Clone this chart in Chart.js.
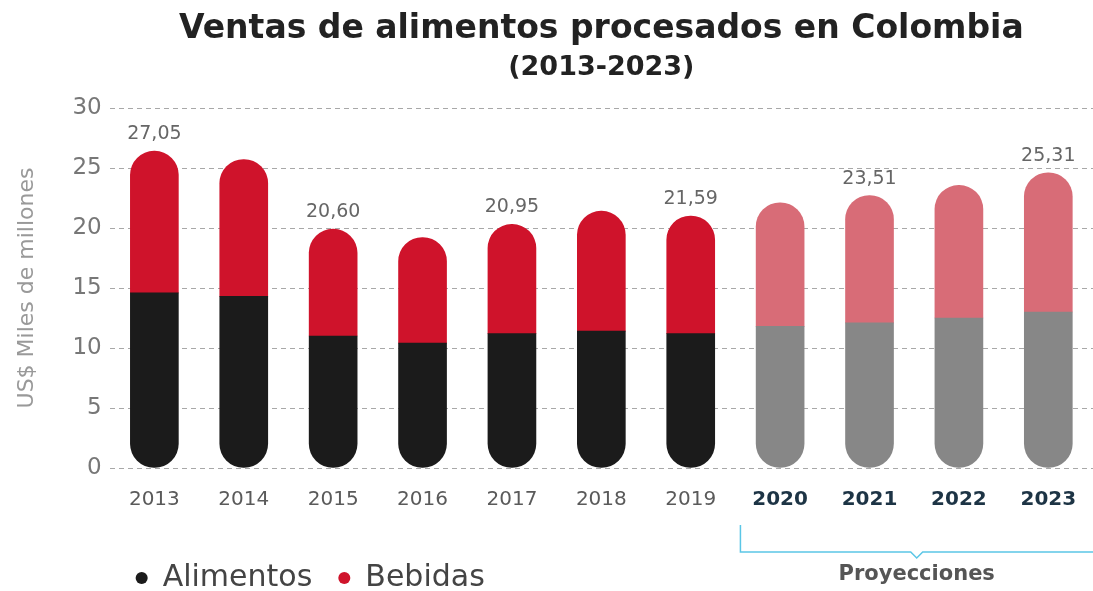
<!DOCTYPE html>
<html>
<head>
<meta charset="utf-8">
<script src="https://cdn.jsdelivr.net/npm/chart.js@4.4.1/dist/chart.umd.min.js"></script>
<style>
  html, body { margin: 0; padding: 0; background: #fff; }
  #wrap { width: 1093px; height: 591px; }
</style>
</head>
<body>
<div id="wrap"><canvas id="chart" width="1093" height="591"></canvas></div>
<script>
// Datos
const years = ['2013', '2014', '2015', '2016', '2017', '2018', '2019', '2020', '2021', '2022', '2023'];
const alimentos = [14.6, 14.3, 11.0, 10.4, 11.2, 11.4, 11.2, 11.8, 12.1, 12.5, 13.0];
const bebidas = [11.8, 11.4, 8.9, 8.8, 9.1, 10.0, 9.8, 10.3, 10.6, 11.05, 11.6];
const totalLabels = ['27,05', null, '20,60', null, '20,95', null, '21,59', null, '23,51', null, '25,31'];
const yTicks = [0, 5, 10, 15, 20, 25, 30];
const firstProjection = 7; // 2020 en adelante

const FONT = "'DejaVu Sans', sans-serif";

// colores: reales vs proyecciones
const alimentosColors = years.map((y, i) => i >= firstProjection ? '#878787' : '#1b1b1b');
const bebidasColors = years.map((y, i) => i >= firstProjection ? '#d86c77' : '#cf132b');

// Etiquetas de total sobre las barras
const totalLabelPlugin = {
    id: 'totalLabels',
    afterDatasetsDraw(chart) {
        const ctx = chart.ctx;
        const meta = chart.getDatasetMeta(1);
        ctx.save();
        ctx.font = '19px ' + FONT;
        ctx.fillStyle = '#666666';
        ctx.textAlign = 'center';
        ctx.textBaseline = 'middle';
        meta.data.forEach((bar, i) => {
            if (totalLabels[i]) ctx.fillText(totalLabels[i], bar.x, bar.y - 17);
        });
        ctx.restore();
    }
};

// Llave de "Proyecciones"
const bracketPlugin = {
    id: 'bracket',
    afterDraw(chart) {
        const ctx = chart.ctx;
        const x = chart.scales.x;
        const left = x.getPixelForValue(firstProjection - 0.5) + 5;
        const right = chart.width;
        const top = 525, y = 552;
        const mid = (left + right) / 2;
        ctx.save();
        ctx.strokeStyle = '#5bc6e6';
        ctx.lineWidth = 1.5;
        ctx.beginPath();
        ctx.moveTo(left, top);
        ctx.lineTo(left, y);
        ctx.lineTo(mid - 6, y);
        ctx.lineTo(mid, y + 6);
        ctx.lineTo(mid + 6, y);
        ctx.lineTo(right, y);
        ctx.stroke();
        ctx.font = 'bold 21px ' + FONT;
        ctx.fillStyle = '#555555';
        ctx.textAlign = 'center';
        ctx.textBaseline = 'middle';
        ctx.fillText('Proyecciones', mid, 575);
        ctx.restore();
    }
};

const chart = new Chart(document.getElementById('chart'), {
    type: 'bar',
    data: {
        labels: years,
        datasets: [
            {
                label: 'Alimentos',
                data: alimentos,
                backgroundColor: alimentosColors,
                borderRadius: { topLeft: 0, topRight: 0, bottomLeft: 24, bottomRight: 24 },
                borderSkipped: false,
                barThickness: 48
            },
            {
                label: 'Bebidas',
                data: bebidas,
                backgroundColor: bebidasColors,
                borderRadius: { topLeft: 24, topRight: 24, bottomLeft: 0, bottomRight: 0 },
                borderSkipped: false,
                barThickness: 48
            }
        ]
    },
    options: {
        responsive: false,
        animation: false,
        layout: { padding: { left: 14, right: 0, top: 0, bottom: -12 } },
        plugins: {
            title: {
                display: true,
                text: 'Ventas de alimentos procesados en Colombia',
                fullSize: false,
                color: '#222222',
                font: { family: FONT, size: 33, weight: 'bold' },
                padding: { top: 10, bottom: 2 }
            },
            subtitle: {
                display: true,
                text: '(2013-2023)',
                fullSize: false,
                color: '#222222',
                font: { family: FONT, size: 27, weight: 'bold' },
                padding: { top: 0, bottom: 24 }
            },
            legend: {
                position: 'bottom',
                align: 'start',
                fullSize: false,
                labels: {
                    usePointStyle: true,
                    pointStyle: 'circle',
                    boxWidth: 12,
                    boxHeight: 8.5,
                    padding: 26,
                    color: '#444444',
                    font: { family: FONT, size: 30 },
                    generateLabels(chart) {
                        return chart.data.datasets.map((ds, i) => ({
                            text: ds.label,
                            fillStyle: ds.backgroundColor[0],
                            strokeStyle: ds.backgroundColor[0],
                            lineWidth: 0,
                            pointStyle: 'circle',
                            fontColor: '#444444',
                            datasetIndex: i
                        }));
                    }
                }
            },
            tooltip: { enabled: false }
        },
        scales: {
            x: {
                stacked: true,
                grid: { display: false },
                border: { display: false },
                afterFit: axis => { axis.height = 69; },
                ticks: {
                    padding: 12,
                    color: ctx => ctx.index >= firstProjection ? '#1d3445' : '#5a5a5a',
                    font: ctx => ({ family: FONT, size: 20, weight: ctx.index >= firstProjection ? 'bold' : 'normal' })
                }
            },
            y: {
                stacked: true,
                min: 0,
                max: 30,
                afterBuildTicks: axis => { axis.ticks = yTicks.map(v => ({ value: v })); },
                grid: {
                    color: '#a8a8a8',
                    drawTicks: false
                },
                border: { display: false, dash: [5, 4] },
                ticks: {
                    padding: 8,
                    color: '#777777',
                    font: { family: FONT, size: 23 }
                },
                title: {
                    display: true,
                    text: 'US$ Miles de millones',
                    color: '#999999',
                    font: { family: FONT, size: 22 },
                    padding: { top: 0, bottom: 24 }
                }
            }
        }
    },
    plugins: [totalLabelPlugin, bracketPlugin]
});
</script>
</body>
</html>
